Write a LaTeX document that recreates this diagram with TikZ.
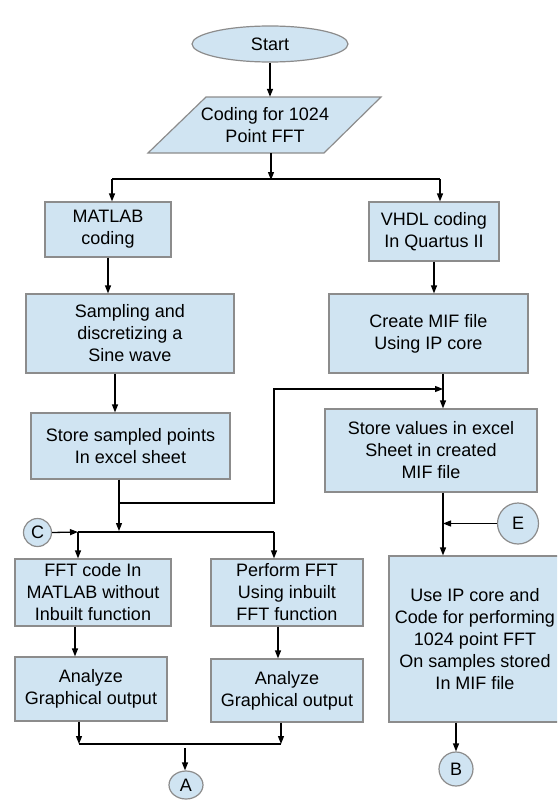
\documentclass[tikz,border=0pt]{standalone}
\usepackage{fontspec}
\setmainfont{Liberation Sans}
\usetikzlibrary{arrows.meta,shapes.geometric}
\definecolor{boxfill}{HTML}{D0E4F2}
\definecolor{boxline}{HTML}{8C8C8C}
\begin{document}
\begin{tikzpicture}[x=1pt,y=-1pt,
  box/.style={draw=boxline, fill=boxfill, line width=1.2pt, rectangle, align=center,
    font=\fontsize{18}{22}\selectfont, inner sep=0pt, text=black},
  conn/.style={draw=black, line width=1.3pt},
  arr/.style={conn, -{Triangle[length=8pt,width=6pt]}}]
\useasboundingbox (0,0) rectangle (557,800);
\clip (0,0) rectangle (557,800);
% start and input
\node[box, ellipse, minimum width=156pt, minimum height=36pt] (start) at (270,44) {Start};
\draw[draw=boxline, fill=boxfill, line width=1.2pt] (206,97) -- (381,97) -- (324,153) -- (148,153) -- cycle;
\node[align=center, font=\fontsize{18}{22}\selectfont, minimum width=175pt, minimum height=56pt, inner sep=0pt] (code) at (265,125) {Coding for 1024\\Point FFT};
% boxes
\node[box, minimum width=126pt, minimum height=55pt] (matlab) at (108,229.5) {MATLAB\\coding};
\node[box, minimum width=130pt, minimum height=59pt] (vhdl) at (434,231.5) {VHDL coding\\In Quartus II};
\node[box, minimum width=208pt, minimum height=79pt] (sampling) at (130,333.5) {Sampling and\\discretizing a\\Sine wave};
\node[box, minimum width=199pt, minimum height=79pt] (createmif) at (428.5,333.5) {Create MIF  file\\Using IP core};
\node[box, minimum width=199pt, minimum height=66pt] (storesamp) at (130.5,446) {Store sampled points\\In excel sheet};
\node[box, minimum width=212pt, minimum height=83pt] (storevals) at (431,450.5) {Store values in excel\\Sheet in created\\MIF file};
\node[box, minimum width=156pt, minimum height=67pt] (fftcode) at (93,592.5) {FFT code In\\MATLAB without\\Inbuilt function};
\node[box, minimum width=152pt, minimum height=67pt] (perform) at (287,592.5) {Perform FFT\\Using inbuilt\\FFT function};
\node[box, minimum width=152pt, minimum height=64pt] (analyzeA) at (91,689) {Analyze\\Graphical output};
\node[box, minimum width=152pt, minimum height=63pt] (analyzeB) at (287,690.5) {Analyze\\Graphical output};
\node[box, minimum width=172pt, minimum height=166pt] (useip) at (475,639) {Use IP core and\\Code for performing\\1024 point FFT\\On samples stored\\In MIF file};
% connectors
\node[box, circle, minimum size=28pt] (C) at (37.5,532.5) {C};
\node[box, circle, minimum size=41pt] (E) at (518,523.5) {E};
\node[box, circle, minimum size=34pt] (B) at (456,769) {B};
\node[box, ellipse, minimum width=34pt, minimum height=28pt] (A) at (186,785) {A};
% coordinates
\coordinate (j1) at (271,180);
\coordinate (sL) at (112,179);
\coordinate (sR) at (440,179);
\coordinate (x115) at (115,0);
\coordinate (rc) at (443,389);
\coordinate (j2) at (119,503);
\coordinate (k2) at (274,503);
\coordinate (k3) at (274,389);
\coordinate (j3) at (119,531);
\coordinate (hL) at (78,532);
\coordinate (hR) at (274,532);
\coordinate (x75) at (75,0);
\coordinate (x278) at (278,0);
\coordinate (b1) at (79,744);
\coordinate (b2) at (281,744);
\coordinate (a0) at (185,748);
% edges
\draw[arr] (start.south) -- (start.south |- code.north);
\draw[arr] (code.south -| j1) -- (j1);
\draw[conn] (sL) -- (sR);
\draw[arr] (sL) -- (sL |- matlab.north);
\draw[arr] (sR) -- (sR |- vhdl.north);
\draw[arr] (matlab.south) -- (matlab.south |- sampling.north);
\draw[arr] (vhdl.south) -- (vhdl.south |- createmif.north);
\draw[arr] (sampling.south -| x115) -- (storesamp.north -| x115);
\draw[arr] (createmif.south -| rc) -- (storevals.north -| rc);
\draw[arr] (storesamp.south -| j2) -- (j2) -- (k2) -- (k3) -- (rc);
\draw[arr] (j2) -- (j3);
\draw[conn] (hL) -- (hR);
\draw[arr] (C.east) -- (hL);
\draw[arr] (hL) -- (hL |- fftcode.north);
\draw[arr] (hR) -- (hR |- perform.north);
\draw[arr] (fftcode.south -| x75) -- (analyzeA.north -| x75);
\draw[arr] (perform.south -| x278) -- (analyzeB.north -| x278);
\draw[arr] (analyzeA.south -| b1) -- (b1);
\draw[arr] (analyzeB.south -| b2) -- (b2);
\draw[conn] (b1) -- (b2);
\draw[arr] (a0) -- (a0 |- A.north);
\draw[arr] (storevals.south -| rc) -- (useip.north -| rc);
\draw[arr] (E.west) -- (E.west -| rc);
\draw[arr] (useip.south -| B.north) -- (B.north);
\end{tikzpicture}
\end{document}
